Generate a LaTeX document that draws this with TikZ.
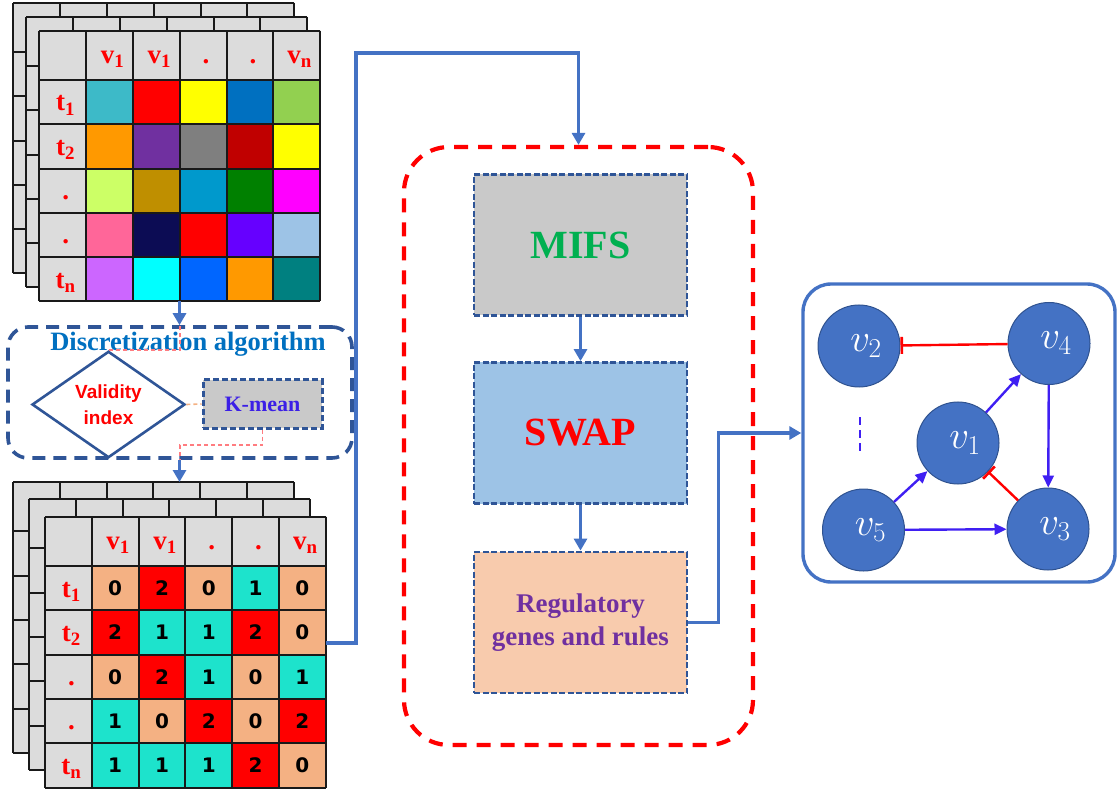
\RequirePackage{fix-cm}
\documentclass[tikz,border=0pt]{standalone}
\usepackage{fontspec}
\newfontfamily\tnr{Liberation Serif}
\newfontfamily\arl{Liberation Sans}
\newfontfamily\dvs{DejaVu Sans}
\usetikzlibrary{arrows.meta,shapes.geometric}

% palette
\definecolor{cellgray}{HTML}{DCDCDC}
\definecolor{flowblue}{HTML}{4472C4}
\definecolor{boxblue}{HTML}{2F5597}
\definecolor{discblue}{HTML}{0070C0}
\definecolor{kblue}{HTML}{3B1FE6}
\definecolor{arrowblue}{HTML}{3F1FF2}
\definecolor{geneblue}{HTML}{4472C4}
\definecolor{geneedge}{HTML}{2F528F}
\definecolor{hintred}{HTML}{FF7C80}
\definecolor{hintpeach}{HTML}{F4B183}
\definecolor{mifsgray}{HTML}{C9C9C9}
\definecolor{swapblue}{HTML}{9DC3E6}
\definecolor{regpeach}{HTML}{F8CBAD}
\definecolor{regpurple}{HTML}{7030A0}
\definecolor{mifsgreen}{HTML}{00B050}
% expression colours
\definecolor{tealA}{HTML}{3DBAC8}
\definecolor{redA}{HTML}{FF0000}
\definecolor{yelA}{HTML}{FFFF00}
\definecolor{blueA}{HTML}{0070C0}
\definecolor{grnA}{HTML}{92D050}
\definecolor{orgA}{HTML}{FF9900}
\definecolor{purA}{HTML}{7030A0}
\definecolor{grayA}{HTML}{7F7F7F}
\definecolor{dredA}{HTML}{C00000}
\definecolor{limeA}{HTML}{CCFF66}
\definecolor{oliveA}{HTML}{BF8F00}
\definecolor{cyanB}{HTML}{0099CC}
\definecolor{grnB}{HTML}{008000}
\definecolor{magA}{HTML}{FF00FF}
\definecolor{pinkA}{HTML}{FF6699}
\definecolor{navyA}{HTML}{0C0C54}
\definecolor{violA}{HTML}{6600FF}
\definecolor{lblueA}{HTML}{9DC3E6}
\definecolor{lilacA}{HTML}{CC66FF}
\definecolor{cyanA}{HTML}{00FFFF}
\definecolor{blueB}{HTML}{0066FF}
\definecolor{tealB}{HTML}{008080}
% discrete levels
\definecolor{val0}{HTML}{F4B183}
\definecolor{val1}{HTML}{1DE3CC}
\definecolor{val2}{HTML}{FF0000}

\tikzset{
  gridline/.style={draw=black!90, line width=2pt},
  flow/.style={draw=flowblue, line width=3.2pt, -{Triangle[length=12pt,width=13pt]}},
  hint/.style={draw=hintred, line width=1.6pt, dash pattern=on 4pt off 3pt},
  hintpeachline/.style={draw=hintpeach, line width=1.6pt, dash pattern=on 4pt off 3pt},
  stagebox/.style={rectangle, draw=boxblue, line width=2.8pt, dash pattern=on 6pt off 2.5pt,
    minimum width=213pt, minimum height=141pt, inner sep=0pt, align=center},
  gene/.style={circle, fill=geneblue, draw=geneedge, line width=1pt, minimum size=82pt,
    inner sep=0pt, text=white, font=\fontsize{39}{40}\selectfont},
  act/.style={draw=arrowblue, line width=2.4pt, -{Triangle[length=12pt,width=11pt]}},
  inh/.style={draw=red, line width=2.4pt, -{Bar[width=17pt,line width=2.6pt]}},
  hdr/.style={text=red, font=\tnr\bfseries\fontsize{27}{27}\selectfont, anchor=base, inner sep=0pt},
  num/.style={font=\dvs\bfseries\fontsize{20}{20}\selectfont, inner sep=0pt},
}

% one sheet of a stacked table: 6 x 6 cells
\newcommand\sheetlines[2]{%
  \foreach \k in {0,...,6} \draw[gridline] ({#1+\k*46.8},#2) -- ++(0,270.8);
  \draw[gridline] (#1,#2) -- ++(280.8,0);
  \foreach \k in {0,...,5} \draw[gridline] (#1,{#2+49.3+\k*44.3}) -- ++(280.8,0);
}
\newcommand\sheet[2]{%
  \fill[cellgray] (#1,#2) rectangle ++(280.8,270.8);
  \sheetlines{#1}{#2}
}
% header row and time column labels
\newcommand\sheetlabels[3]{%
  \foreach \h [count=\c] in {v\textsubscript{1},v\textsubscript{1},.,.,v\textsubscript{n}}
    \node[hdr] (#3-h\c) at ({#1+(\c+0.5)*46.8+3},{#2+32.5}) {\h};
  \foreach \h [count=\r] in {t\textsubscript{1},t\textsubscript{2},.,.,t\textsubscript{n}}
    \node[hdr] (#3-r\r) at ({#1+26.4},{#2+49.3+(\r-1)*44.3+31}) {\h};
}

\begin{document}
\begin{tikzpicture}[x=1pt,y=-1pt]
\useasboundingbox (0,0) rectangle (1119,791);

% ---------- continuous expression data ----------
\sheet{13.3}{2.7}
\sheet{26.3}{16.7}
\sheet{39.3}{30.7}
\foreach \row [count=\r] in {{tealA,redA,yelA,blueA,grnA},{orgA,purA,grayA,dredA,yelA},
    {limeA,oliveA,cyanB,grnB,magA},{pinkA,navyA,redA,violA,lblueA},{lilacA,cyanA,blueB,orgA,tealB}}{
  \foreach \cc [count=\c] in \row
    \fill[\cc] ({39.3+\c*46.8},{30.7+49.3+(\r-1)*44.3}) rectangle ++(46.8,44.3);
}
\sheetlines{39.3}{30.7}
\sheetlabels{39.3}{30.7}{raw}
\coordinate (raw-s) at (179.5,301.5);

% ---------- discretization ----------
\node[rectangle, rounded corners=20pt, draw=boxblue, line width=3.6pt, dash pattern=on 13pt off 8pt,
  minimum width=344pt, minimum height=131pt] (disc) at (180,392.5) {};
\node[text=discblue, font=\tnr\bfseries\fontsize{26.5}{26}\selectfont] (disctitle) at (188,344)
  {Discretization algorithm};
\node[diamond, draw=boxblue, fill=white, line width=2.6pt, minimum width=153pt, minimum height=85pt,
  inner sep=0pt, align=center, text=red, font=\arl\bfseries\fontsize{19}{26}\selectfont]
  (valid) at (108.5,404.5) {Validity\\index};
\node[rectangle, fill=mifsgray, draw=boxblue, line width=3pt, dash pattern=on 6pt off 3pt,
  minimum width=119pt, minimum height=48pt, text=kblue, font=\tnr\bfseries\fontsize{22}{22}\selectfont]
  (kmean) at (262.5,404) {K-mean};
\coordinate (kbend) at (180,445);
\draw[hint] (valid.north) -| (disc.north);
\draw[hintpeachline] (valid.east) -- (kmean.west);
\draw[hint] (kmean.south) |- (kbend) -- (disc.south);

% ---------- discretized data ----------
\sheet{13}{482}
\sheet{29}{499}
\sheet{45}{516.7}
\foreach \row [count=\r] in {{0,2,0,1,0},{2,1,1,2,0},{0,2,1,0,1},{1,0,2,0,2},{1,1,1,2,0}}{
  \foreach \val [count=\c] in \row {
    \fill[val\val] ({45+\c*46.8},{516.7+49.3+(\r-1)*44.3}) rectangle ++(46.8,44.3);
    \node[num] (d-\r-\c) at ({45+(\c+0.5)*46.8},{516.7+49.3+(\r-0.5)*44.3}) {\val};
  }
}
\sheetlines{45}{516.7}
\sheetlabels{45}{516.7}{disc}
\coordinate (dis-n) at (179.5,482);
\coordinate (dis-e) at (325.8,643);

\draw[flow] (raw-s) -- (raw-s |- disc.north);
\draw[flow] (dis-n |- disc.south) -- (dis-n);

% ---------- inference pipeline ----------
\node[rectangle, rounded corners=45pt, draw=red, line width=4.2pt, dash pattern=on 14pt off 10pt,
  minimum width=349pt, minimum height=598pt] (proc) at (578.5,446) {};
\node[stagebox, fill=mifsgray, text=mifsgreen, font=\tnr\bfseries\fontsize{40}{40}\selectfont]
  (mifs) at (580.5,245) {MIFS};
\node[stagebox, fill=swapblue, text=red, font=\tnr\bfseries\fontsize{40}{40}\selectfont]
  (swap) at (580.5,433) {SWAP};
\node[stagebox, fill=regpeach, text=regpurple, font=\tnr\bfseries\fontsize{27}{33}\selectfont]
  (reg) at (580.5,622.5) {Regulatory\\genes and rules};
\draw[flow] (mifs) -- (swap);
\draw[flow] (swap) -- (reg);

\coordinate (route) at (356,53);
\draw[flow] (dis-e) -| (route) -| (proc.north);

% ---------- inferred network ----------
\node[rectangle, rounded corners=28pt, draw=flowblue, line width=3.4pt,
  minimum width=312pt, minimum height=298pt] (net) at (959,433) {};
\draw[flow] (reg.east) -- ++(30,0) |- (net.west);

\node[gene] (v2) at (859,346) {\hspace{14pt}$v_2$};
\node[gene] (v4) at (1049,343.5) {\hspace{14pt}$v_4$};
\node[gene] (v1) at (958,443) {\hspace{14pt}$v_1$};
\node[gene] (v5) at (863.5,530) {\hspace{14pt}$v_5$};
\node[gene] (v3) at (1048,529) {\hspace{14pt}$v_3$};

\draw[inh] (v4) -- (v2);
\draw[act] (v1) -- (v4);
\draw[act] (v4) -- (v3);
\draw[act] (v5) -- (v1);
\draw[act] (v5) -- (v3);
\draw[inh] (v3) -- (v1);
\draw[draw=arrowblue, line width=2.4pt, dash pattern=on 8pt off 5pt] (860,417) -- (860,453);
\end{tikzpicture}
\end{document}
